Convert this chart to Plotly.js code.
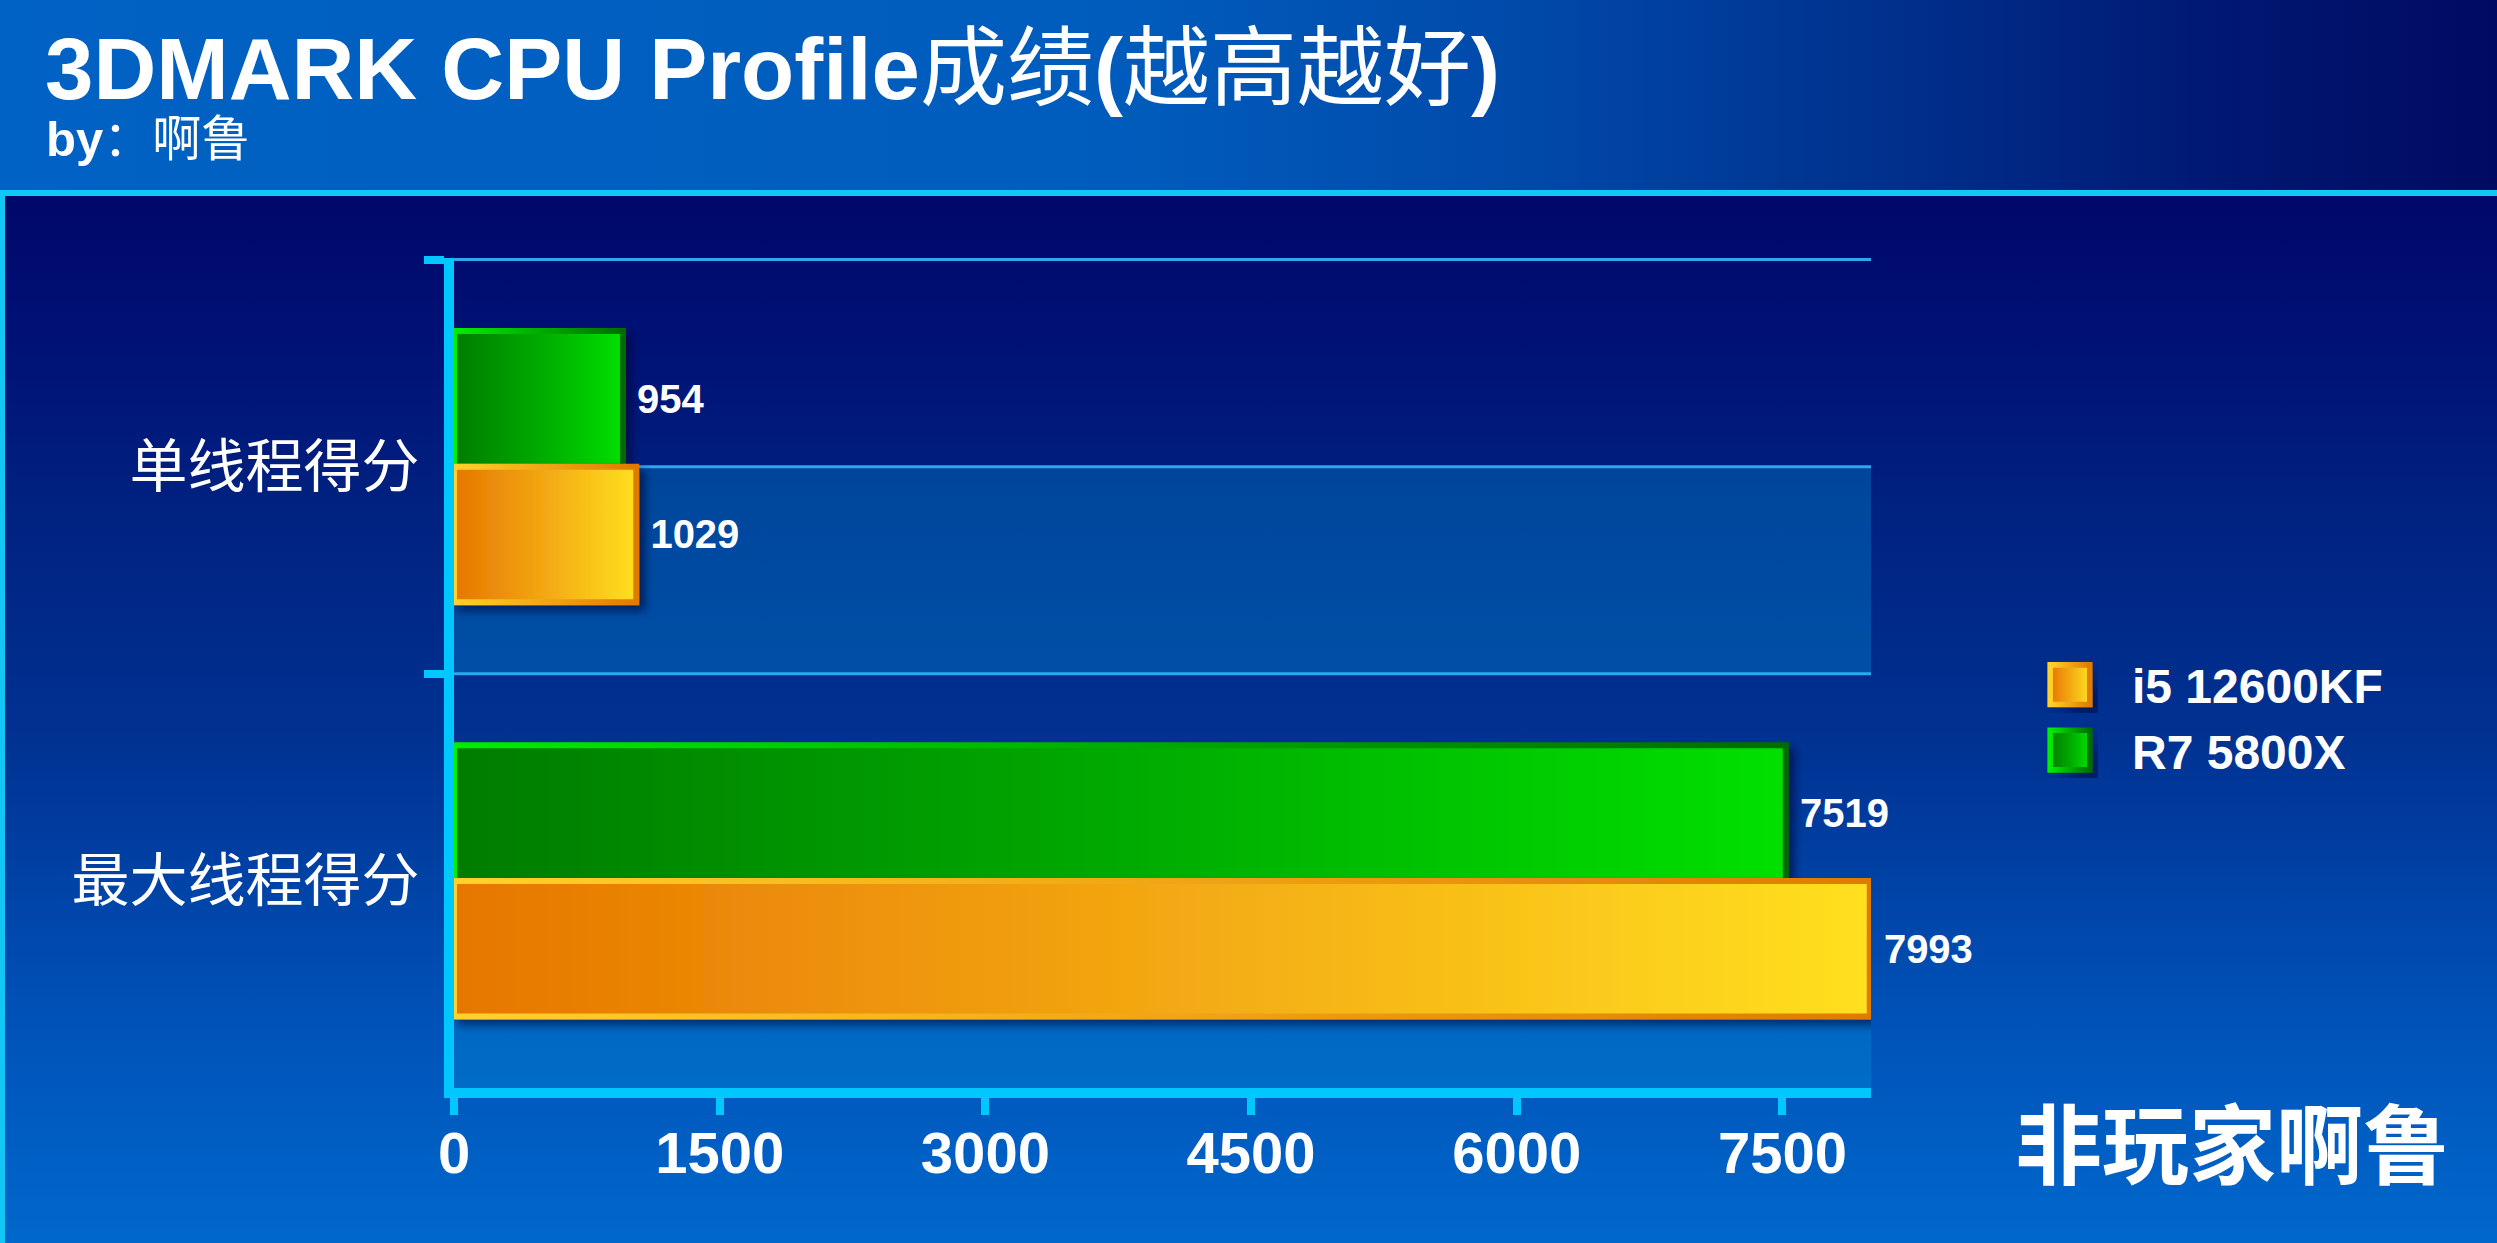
<!DOCTYPE html>
<html>
<head>
<meta charset="utf-8">
<script src="https://cdn.plot.ly/plotly-3.0.1.min.js"></script>
<style>
html,body{margin:0;padding:0;width:2497px;height:1243px;overflow:hidden;background:#00086a;}
#wrap{position:relative;width:2497px;height:1243px;}
#hdr{position:absolute;left:0;top:0;width:2497px;height:190px;
  background:linear-gradient(to right,#0062c4 0%,#005cbc 45%,#0048a8 62%,#002c88 78%,#001670 90%,#000a62 100%);}
#bodybg{position:absolute;left:0;top:196px;width:2497px;height:1047px;
  background:linear-gradient(to bottom,#00076a 0%,#001276 15%,#00207f 28%,#003292 52%,#0050b6 77%,#0068cc 100%);}
#hline{position:absolute;left:0;top:190px;width:2497px;height:6px;background:#12c6f6;}
#lborder{position:absolute;left:0;top:190px;width:5px;height:1053px;background:#12c6f6;}
#chart{position:absolute;left:0;top:0;width:2497px;height:1243px;}
</style>
</head>
<body>
<div id="wrap">
  <div id="hdr"></div>
  <div id="bodybg"></div>
  <div id="hline"></div>
  <div id="lborder"></div>
  <div id="chart"></div>
</div>
<script>
// ---- data ----
const categories = ['单线程得分', '最大线程得分'];
const seriesNames = ['i5 12600KF', 'R7 5800X'];
const i5Scores = [1029, 7993];
const r7Scores = [954, 7519];
const xTickValues = [0, 1500, 3000, 4500, 6000, 7500];
const xTickLabels = ['0', '1500', '3000', '4500', '6000', '7500'];
const titleText = '<b>3DMARK CPU Profile</b>成绩<b>(</b>越高越好<b>)</b>';
const subtitleText = '<b>by</b>：啊鲁';
const watermarkText = '非玩家啊鲁';

// ---- style ----
const LATIN = 'Liberation Sans, Arial, Noto Sans CJK SC, sans-serif';
const CJK = 'Noto Sans CJK SC, sans-serif';
const CYAN = '#00c8ff';
const ORANGE_KEY = 'rgb(240, 160, 16)';
const GREEN_KEY = 'rgb(0, 176, 0)';

const labelFont = {family: LATIN, size: 40, color: '#ffffff', weight: 'bold'};
const withGap = v => '\u00a0' + v;

const data = [
  {
    type: 'bar', orientation: 'h', name: seriesNames[1],
    y: categories, x: r7Scores, text: r7Scores.map(withGap),
    textposition: 'outside', textfont: labelFont, cliponaxis: false, constraintext: 'none',
    marker: {color: GREEN_KEY, line: {color: '#008000', width: 6}},
    hoverinfo: 'skip'
  },
  {
    type: 'bar', orientation: 'h', name: seriesNames[0],
    y: categories, x: i5Scores, text: i5Scores.map(withGap),
    textposition: 'outside', textfont: labelFont, cliponaxis: false, constraintext: 'none',
    marker: {color: ORANGE_KEY, line: {color: '#e08000', width: 6}},
    hoverinfo: 'skip'
  }
];

// plot-area decorations derived from the category positions
const shapes = [];
categories.forEach((c, i) => {
  shapes.push({type: 'rect', layer: 'below', xref: 'paper', x0: 0, x1: 1, yref: 'y',
    y0: i, y1: i + 0.5, fillcolor: 'rgba(0,150,220,0.33)', line: {width: 0}});
});
categories.forEach((c, i) => {
  [i - 0.5, i].forEach(v => shapes.push({type: 'line', layer: 'below', xref: 'paper', x0: 0, x1: 1,
    yref: 'y', y0: v, y1: v, line: {color: '#2aa8f0', width: 3}}));
});

const W = 2497, H = 1243;
const M = {l: 454, r: 626, t: 258, b: 155};
const pw = W - M.l - M.r, ph = H - M.t - M.b;
const px = v => (v - M.l) / pw;
const py = v => (H - M.b - v) / ph;

const layout = {
  width: W, height: H,
  paper_bgcolor: 'rgba(0,0,0,0)', plot_bgcolor: 'rgba(0,0,0,0)',
  margin: {l: M.l, r: M.r, t: M.t, b: M.b, pad: 0},
  barmode: 'group', bargap: 0.345, bargroupgap: 0,
  font: {family: LATIN, color: '#ffffff'},
  showlegend: true,
  title: {
    text: titleText,
    font: {family: LATIN, size: 87, color: '#ffffff'},
    xref: 'container', x: 45 / W, xanchor: 'left',
    yref: 'container', y: 1 - 69 / H, yanchor: 'middle'
  },
  xaxis: {
    range: [0, 8000], tickmode: 'array', tickvals: xTickValues, ticktext: xTickLabels,
    showgrid: false, zeroline: false,
    showline: true, linecolor: CYAN, linewidth: 10,
    ticks: 'outside', ticklen: 17, tickwidth: 8, tickcolor: CYAN,
    ticklabelstandoff: -12,
    tickfont: {family: LATIN, size: 58, color: '#ffffff', weight: 'bold'},
    fixedrange: true
  },
  yaxis: {
    type: 'category', categoryorder: 'array', categoryarray: categories,
    autorange: 'reversed', tickson: 'boundaries',
    showgrid: false, zeroline: false,
    showline: true, linecolor: CYAN, linewidth: 10,
    ticks: 'outside', ticklen: 20, tickwidth: 8, tickcolor: CYAN,
    ticklabelstandoff: 13,
    tickfont: {family: CJK, size: 58, color: '#ffffff'},
    fixedrange: true
  },
  legend: {
    xref: 'container', yref: 'container',
    x: 2008 / W, xanchor: 'left', y: 1 - 647 / H, yanchor: 'top',
    bgcolor: 'rgba(0,0,0,0)', borderwidth: 0,
    traceorder: 'reversed', itemwidth: 114,
    font: {family: LATIN, size: 48, color: '#ffffff', weight: 'bold'}
  },
  annotations: [
    {text: subtitleText, xref: 'paper', yref: 'paper', x: px(44), y: py(139),
     xanchor: 'left', yanchor: 'middle', showarrow: false,
     font: {family: LATIN, size: 49, color: '#ffffff'}},
    {text: watermarkText, xref: 'paper', yref: 'paper', x: px(2232), y: py(1140),
     xanchor: 'center', yanchor: 'middle', showarrow: false,
     font: {family: CJK, size: 87, color: '#ffffff', weight: 'bold'}}
  ],
  shapes: shapes
};

Plotly.newPlot('chart', data, layout, {staticPlot: true, displayModeBar: false}).then(gd => {
  const NS = 'http://www.w3.org/2000/svg';
  const svg = gd.querySelector('svg.main-svg');
  let defs = svg.querySelector('defs');
  if (!defs) { defs = document.createElementNS(NS, 'defs'); svg.insertBefore(defs, svg.firstChild); }
  const grad = (id, stops) => {
    const g = document.createElementNS(NS, 'linearGradient');
    g.setAttribute('id', id); g.setAttribute('x1', '0'); g.setAttribute('y1', '0');
    g.setAttribute('x2', '1'); g.setAttribute('y2', '0');
    stops.forEach(([o, c]) => {
      const s = document.createElementNS(NS, 'stop');
      s.setAttribute('offset', o); s.setAttribute('stop-color', c); g.appendChild(s);
    });
    defs.appendChild(g);
  };
  grad('gOF', [['0', '#e67600'], ['0.5', '#f3a812'], ['1', '#ffe020']]);
  grad('gOS', [['0', '#ffd22a'], ['1', '#e07a00']]);
  grad('gGF', [['0', '#007c00'], ['0.5', '#00aa00'], ['1', '#00e000']]);
  grad('gGS', [['0', '#00ee00'], ['1', '#006c00']]);
  const f = document.createElementNS(NS, 'filter');
  f.setAttribute('id', 'bshadow'); f.setAttribute('x', '-20%'); f.setAttribute('y', '-20%');
  f.setAttribute('width', '140%'); f.setAttribute('height', '140%');
  const ds = document.createElementNS(NS, 'feDropShadow');
  ds.setAttribute('dx', '6'); ds.setAttribute('dy', '6'); ds.setAttribute('stdDeviation', '4');
  ds.setAttribute('flood-color', '#000030'); ds.setAttribute('flood-opacity', '0.55');
  f.appendChild(ds); defs.appendChild(f);

  const norm = s => (s || '').replace(/\s+/g, '');
  const paint = (p) => {
    const fill = norm(p.style.fill);
    if (fill === norm(ORANGE_KEY)) { p.style.fill = 'url(#gOF)'; p.style.stroke = 'url(#gOS)'; return true; }
    if (fill === norm(GREEN_KEY)) { p.style.fill = 'url(#gGF)'; p.style.stroke = 'url(#gGS)'; return true; }
    return false;
  };
  gd.querySelectorAll('.barlayer path').forEach(p => { if (paint(p)) p.style.filter = 'url(#bshadow)'; });
  gd.querySelectorAll('.legend .legendpoints path').forEach(p => {
    if (paint(p)) {
      p.setAttribute('transform', (p.getAttribute('transform') || '') + ' scale(3.3)');
      p.style.strokeWidth = '1.7px';
      p.style.filter = 'url(#bshadow)';
    }
  });
});
</script>
</body>
</html>
